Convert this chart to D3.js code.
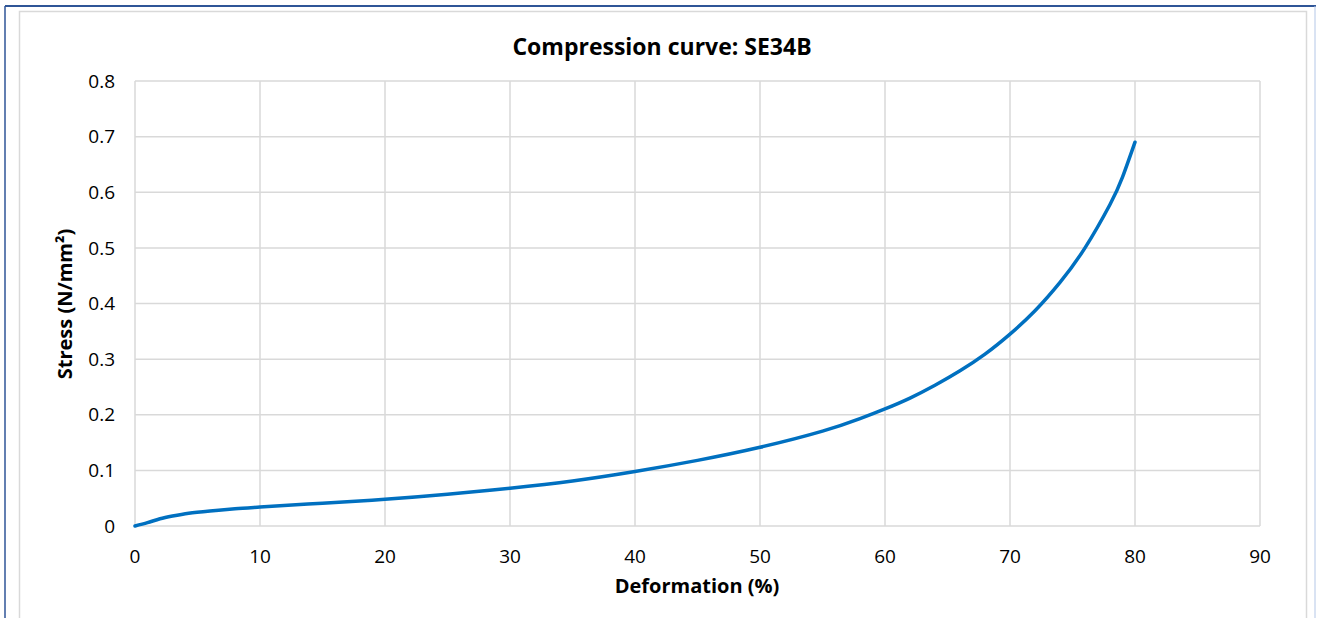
<!DOCTYPE html>
<html>
<head>
<meta charset="utf-8">
<script src="https://cdn.jsdelivr.net/npm/d3@7"></script>
<style>
body { margin: 0; background: #fff; }
svg { display: block; font-family: "Open Sans", sans-serif; }
</style>
</head>
<body>
<div class="chart"></div>
<script>
// deformation (%) and stress (N/mm2)
const deformation = [0, 1, 2, 3, 4.3, 6, 8, 10, 15, 20, 25, 30, 35, 40, 45, 50, 55, 58, 60, 62, 64, 66, 68, 70, 72, 74, 76, 78, 79, 80];
const stress = [0, 0.006, 0.013, 0.018, 0.023, 0.027, 0.031, 0.034, 0.041, 0.048, 0.057, 0.068, 0.081, 0.098, 0.118, 0.1415, 0.1705, 0.193, 0.2105, 0.230, 0.253, 0.279, 0.309, 0.345, 0.387, 0.438, 0.500, 0.578, 0.627, 0.690];
const xTicks = [0, 10, 20, 30, 40, 50, 60, 70, 80, 90];
const yTicks = [0, 0.1, 0.2, 0.3, 0.4, 0.5, 0.6, 0.7, 0.8];

const w = 1319, h = 618;
const svg = d3.select('.chart').append('svg').attr('width', w).attr('height', h);

// outer frame
svg.append('line').attr('x1', 5).attr('x2', 1316).attr('y1', 6).attr('y2', 6)
  .attr('stroke', '#2f5597').attr('stroke-width', 2);
svg.append('line').attr('x1', 5).attr('x2', 5).attr('y1', 6).attr('y2', h)
  .attr('stroke', '#2f5597').attr('stroke-width', 1.5);
svg.append('line').attr('x1', 1315).attr('x2', 1315).attr('y1', 6).attr('y2', h)
  .attr('stroke', '#b4c7e7').attr('stroke-width', 1);
svg.append('rect').attr('x', 19.5).attr('y', 11.5).attr('width', 1287).attr('height', 612)
  .attr('fill', 'none').attr('stroke', '#d9d9d9').attr('stroke-width', 1.5);

const x = d3.scaleLinear().domain([0, 90]).range([135, 1260]);
const y = d3.scaleLinear().domain([0, 0.8]).range([526, 81]);

// gridlines
svg.selectAll('line.vgrid').data(xTicks).enter().append('line')
  .attr('class', 'vgrid')
  .attr('x1', d => x(d)).attr('x2', d => x(d))
  .attr('y1', y(0)).attr('y2', y(0.8))
  .attr('stroke', '#d9d9d9').attr('stroke-width', 1.5);
svg.selectAll('line.hgrid').data(yTicks).enter().append('line')
  .attr('class', 'hgrid')
  .attr('x1', x(0)).attr('x2', x(90))
  .attr('y1', d => y(d)).attr('y2', d => y(d))
  .attr('stroke', '#d9d9d9').attr('stroke-width', 1.5);

// tick labels
svg.selectAll('text.xt').data(xTicks).enter().append('text')
  .attr('class', 'xt')
  .attr('x', d => x(d)).attr('y', 563)
  .attr('text-anchor', 'middle').attr('font-size', 19).attr('fill', '#000')
  .text(d => d);
svg.selectAll('text.yt').data(yTicks).enter().append('text')
  .attr('class', 'yt')
  .attr('x', 115).attr('y', d => y(d)).attr('dy', '0.35em')
  .attr('text-anchor', 'end').attr('font-size', 19).attr('fill', '#000')
  .text(d => d);

// curve
const pts = deformation.map((d, i) => [d, stress[i]]);
const line = d3.line().x(d => x(d[0])).y(d => y(d[1])).curve(d3.curveNatural);
svg.append('path').datum(pts)
  .attr('d', line)
  .attr('fill', 'none').attr('stroke', '#0070c0').attr('stroke-width', 3.5)
  .attr('stroke-linecap', 'round');

// titles
svg.append('text').attr('x', 662).attr('y', 55)
  .attr('text-anchor', 'middle').attr('font-size', 23).attr('font-weight', 'bold')
  .text('Compression curve: SE34B');
svg.append('text').attr('x', 697).attr('y', 593)
  .attr('text-anchor', 'middle').attr('font-size', 20).attr('font-weight', 'bold')
  .text('Deformation (%)');
svg.append('text')
  .attr('transform', 'translate(72,304) rotate(-90)')
  .attr('text-anchor', 'middle').attr('font-size', 20).attr('font-weight', 'bold')
  .text('Stress (N/mm²)');
</script>
</body>
</html>
